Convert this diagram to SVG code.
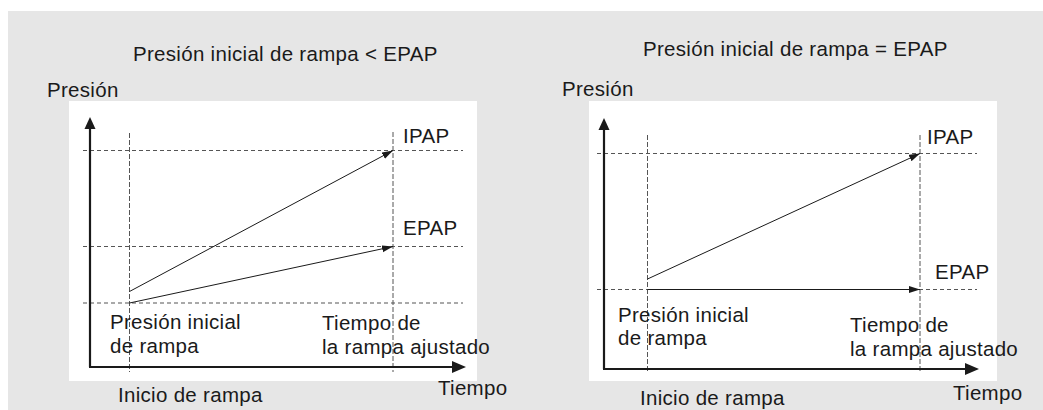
<svg xmlns="http://www.w3.org/2000/svg" width="1043" height="410" viewBox="0 0 1043 410">
<style>
  text { font-family: "Liberation Sans", Arial, sans-serif; font-size: 20.5px; letter-spacing: 0.3px; fill: #1a1a1a; }
  .dash { stroke: #555; stroke-width: 1.2; stroke-dasharray: 4 3; fill: none; }
  .vdash { stroke: #555; stroke-width: 1; stroke-dasharray: 5 2; fill: none; }
  .axis { stroke: #1a1a1a; stroke-width: 2.2; fill: none; }
  .ramp { stroke: #1a1a1a; stroke-width: 1; fill: none; marker-end: url(#arr); }
  .head { fill: #1a1a1a; }
</style>
<defs>
  <marker id="arr" markerUnits="userSpaceOnUse" markerWidth="12" markerHeight="8" refX="11" refY="3.5" orient="auto">
    <path d="M0,0 L11,3.5 L0,7 z" fill="#1a1a1a"/>
  </marker>
</defs>
<rect x="0" y="0" width="1043" height="410" fill="#ffffff"/>
<rect x="8" y="11" width="1035" height="399" fill="#e6e6e6"/>

<g id="left-panel">
  <rect x="69" y="101" width="408" height="280" fill="#ffffff"/>
  <text x="133" y="61">Presión inicial de rampa &lt; EPAP</text>
  <text x="47" y="97">Presión</text>
  <g id="left-grid">
    <line class="dash" x1="83" y1="150.5" x2="463" y2="150.5"/>
    <line class="dash" x1="83" y1="246.5" x2="463" y2="246.5"/>
    <line class="dash" x1="83" y1="303" x2="463" y2="303"/>
    <line class="vdash" x1="129.5" y1="133" x2="129.5" y2="372"/>
    <line class="vdash" x1="393" y1="132" x2="393" y2="372"/>
  </g>
  <g id="left-axes">
    <line class="axis" x1="90" y1="126" x2="90" y2="367"/>
    <path class="head" d="M90,117 L95.5,129 L84.5,129 z"/>
    <line class="axis" x1="89" y1="367" x2="455" y2="367"/>
    <path class="head" d="M466,367 L452,361 L452,373 z"/>
  </g>
  <g id="left-connectors">
    <line class="ramp" x1="129.5" y1="291.5" x2="393" y2="150.5"/>
    <line class="ramp" x1="129.5" y1="303" x2="393" y2="246.5"/>
  </g>
  <text x="403" y="143">IPAP</text>
  <text x="403" y="235">EPAP</text>
  <text x="110" y="329">Presión inicial</text>
  <text x="110" y="353">de rampa</text>
  <text x="322" y="330">Tiempo de</text>
  <text x="322" y="354">la rampa ajustado</text>
  <text x="118" y="402">Inicio de rampa</text>
  <text x="438" y="395">Tiempo</text>
</g>

<g id="right-panel">
  <rect x="589" y="101" width="408" height="280" fill="#ffffff"/>
  <text x="643" y="56">Presión inicial de rampa = EPAP</text>
  <text x="562" y="96">Presión</text>
  <g id="right-grid">
    <line class="dash" x1="597" y1="153.5" x2="977" y2="153.5"/>
    <line class="dash" x1="597" y1="289.5" x2="977" y2="289.5"/>
    <line class="vdash" x1="647.5" y1="135" x2="647.5" y2="373"/>
    <line class="vdash" x1="920" y1="135" x2="920" y2="373"/>
  </g>
  <g id="right-axes">
    <line class="axis" x1="604" y1="127" x2="604" y2="369"/>
    <path class="head" d="M604,118 L609.5,130 L598.5,130 z"/>
    <line class="axis" x1="603" y1="369" x2="968" y2="369"/>
    <path class="head" d="M979,369 L965,363 L965,375 z"/>
  </g>
  <g id="right-connectors">
    <line class="ramp" x1="647.5" y1="279" x2="920" y2="153.5"/>
    <line class="ramp" x1="647.5" y1="289.5" x2="920" y2="289.5"/>
  </g>
  <text x="927" y="144">IPAP</text>
  <text x="935" y="279">EPAP</text>
  <text x="618" y="322">Presión inicial</text>
  <text x="618" y="345">de rampa</text>
  <text x="850" y="332">Tiempo de</text>
  <text x="850" y="356">la rampa ajustado</text>
  <text x="640" y="405">Inicio de rampa</text>
  <text x="953" y="400">Tiempo</text>
</g>
</svg>
